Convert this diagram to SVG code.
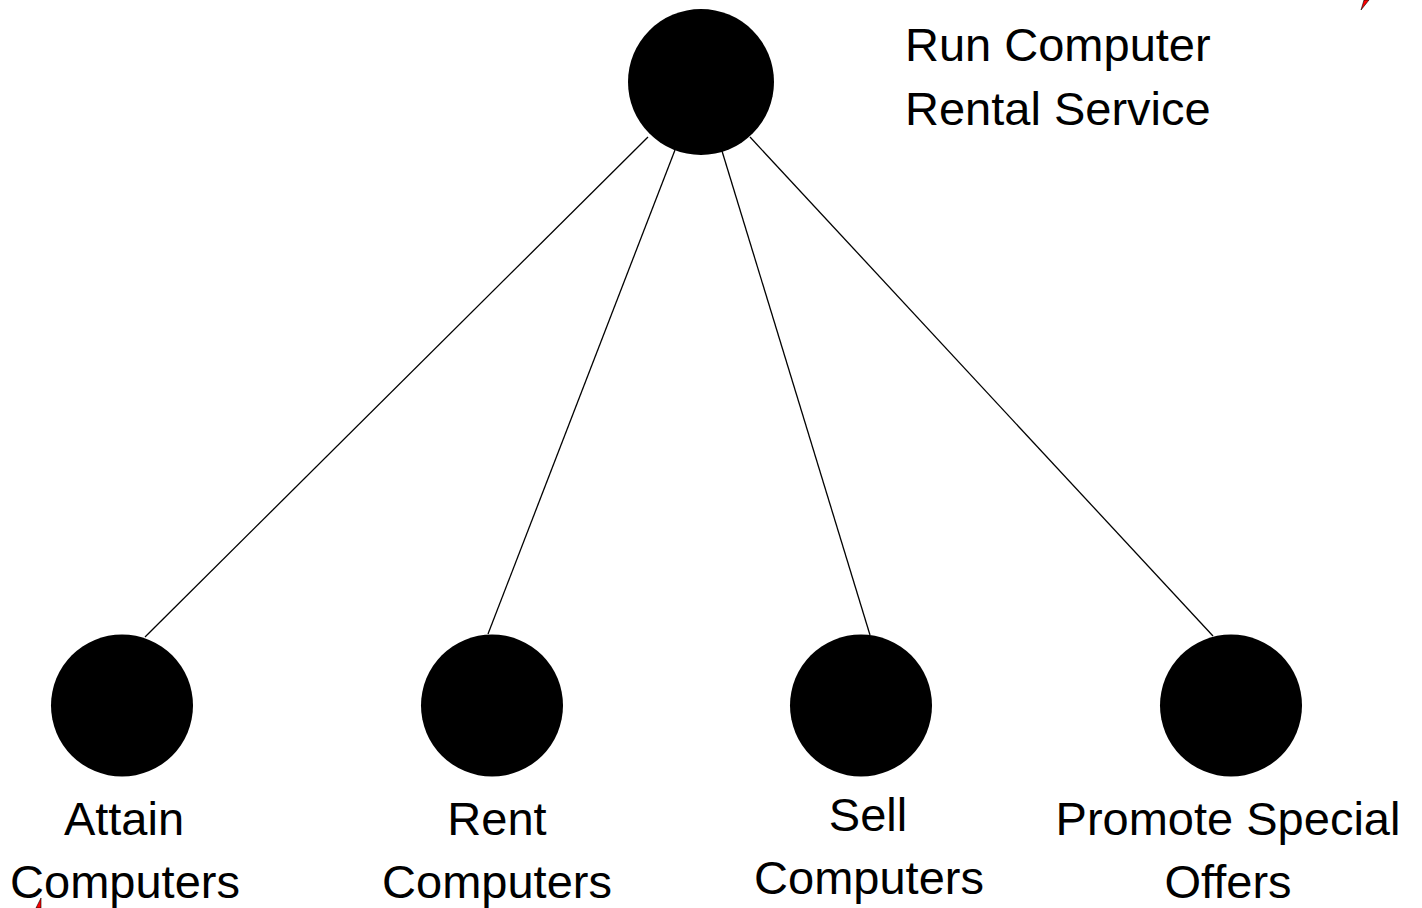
<svg xmlns="http://www.w3.org/2000/svg" width="1422" height="908" viewBox="0 0 1422 908">
<style>
.node circle{fill:#000;}
.lbl{font-family:"Liberation Sans",Arial,sans-serif;font-size:47px;fill:#000;}
.mid{text-anchor:middle;}
.conn line{stroke:#000;stroke-width:1.3;}
.mark{fill:#f00;stroke:#000;stroke-width:0.6;}
</style>
<rect width="1422" height="908" fill="#fff"/>
<g id="connectors" class="conn">
<line x1="648" y1="137" x2="145" y2="637"/>
<line x1="675" y1="150" x2="488" y2="634"/>
<line x1="722" y1="151" x2="870" y2="635"/>
<line x1="750" y1="137" x2="1213" y2="636"/>
</g>
<g id="root" class="node">
<circle cx="701" cy="82" r="73"/>
<text class="lbl" x="905" y="61">Run Computer</text>
<text class="lbl" x="905" y="125">Rental Service</text>
</g>
<g id="attain" class="node">
<circle cx="122" cy="705.5" r="71"/>
<text class="lbl mid" x="124" y="835">Attain</text>
<text class="lbl mid" x="125" y="898">Computers</text>
</g>
<g id="rent" class="node">
<circle cx="492" cy="705.5" r="71"/>
<text class="lbl mid" x="497" y="835">Rent</text>
<text class="lbl mid" x="497" y="898">Computers</text>
</g>
<g id="sell" class="node">
<circle cx="861" cy="705.5" r="71"/>
<text class="lbl mid" x="868" y="831">Sell</text>
<text class="lbl mid" x="869" y="894">Computers</text>
</g>
<g id="promote" class="node">
<circle cx="1231" cy="705.5" r="71"/>
<text class="lbl mid" x="1228" y="835">Promote Special</text>
<text class="lbl mid" x="1228" y="898">Offers</text>
</g>
<polygon class="mark" points="1361,10 1364,0 1369,0"/>
<polygon class="mark" points="36,908 41,898 41,908"/>
</svg>
